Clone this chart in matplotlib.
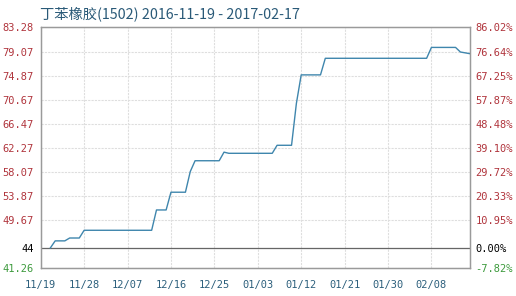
import numpy as np
import matplotlib
matplotlib.use('Agg')
import matplotlib.pyplot as plt

plt.rcParams['font.family'] = ['Noto Sans CJK SC', 'DejaVu Sans']

# days counted from 2016-11-19
days = [2, 3, 5, 6, 8, 9, 23, 24, 26, 27, 30, 31, 32, 37, 38, 39, 48, 49,
        52, 53, 54, 58, 59, 80, 81, 86, 87, 89]
prices = [44.77, 46.0, 46.0, 46.5, 46.5, 47.85, 47.85, 51.4, 51.4, 54.5, 54.5,
          58.1, 60.0, 60.0, 61.5, 61.3, 61.3, 62.7, 62.7, 70.0, 75.0, 75.0,
          77.9, 77.9, 79.8, 79.8, 79.0, 78.7]

base = 44.77
ytick_vals = [41.26, 44.77, 49.67, 53.87, 58.07, 62.27, 66.47, 70.67, 74.87, 79.07, 83.28]
ytick_left = ['41.26', '44', '49.67', '53.87', '58.07', '62.27', '66.47', '70.67', '74.87', '79.07', '83.28']
ytick_right = ['-7.82%', '0.00%', '10.95%', '20.33%', '29.72%', '39.10%', '48.48%',
               '57.87%', '67.25%', '76.64%', '86.02%']
xtick_days = [0, 9, 18, 27, 36, 45, 54, 63, 72, 81]
xtick_labels = ['11/19', '11/28', '12/07', '12/16', '12/25', '01/03', '01/12', '01/21', '01/30', '02/08']

red = '#b0343c'
green = '#3c9a3c'
blue = '#2c5f7c'

fig = plt.figure(figsize=(5.16, 2.96), dpi=100)
ax = fig.add_axes([0.0789, 0.0946, 0.832, 0.8125])

ax.plot(days, prices, color='#3f86ad', lw=1.0, zorder=3)
ax.axhline(base, color='#666666', lw=0.9, zorder=2)

ax.set_xlim(0, 89)
ax.set_ylim(41.26, 83.28)
ax.set_xticks(xtick_days)
ax.set_xticklabels(xtick_labels)
ax.set_yticks(ytick_vals)
ax.set_yticklabels(ytick_left)
for lab, v in zip(ax.get_yticklabels(), ytick_vals):
    lab.set_color('black' if v == base else (green if v < base else red))
ax.tick_params(axis='both', length=0, labelsize=7.5)
ax.tick_params(axis='x', colors=blue, pad=9)
ax.tick_params(axis='y', pad=5)
for lab in ax.get_xticklabels() + ax.get_yticklabels():
    lab.set_family('DejaVu Sans Mono')

ax.grid(True, color='#dedede', lw=0.8, linestyle=(0, (2, 1)))
for s in ax.spines.values():
    s.set_color('#9a9a9a')
    s.set_linewidth(0.9)

ax2 = ax.twinx()
ax2.set_ylim(ax.get_ylim())
ax2.set_yticks(ytick_vals)
ax2.set_yticklabels(ytick_right)
for lab, v in zip(ax2.get_yticklabels(), ytick_vals):
    lab.set_color('black' if v == base else (green if v < base else red))
    lab.set_family('DejaVu Sans Mono')
ax2.tick_params(axis='y', length=0, labelsize=7.5, pad=4)
for s in ax2.spines.values():
    s.set_color('#9a9a9a')
    s.set_linewidth(0.9)

fig.text(0.078, 0.955, '丁苯橡胶(1502) 2016-11-19 - 2017-02-17', color='#2a5a78',
         fontsize=10.3, va='center', ha='left')

fig.savefig('out.png', dpi=100)
